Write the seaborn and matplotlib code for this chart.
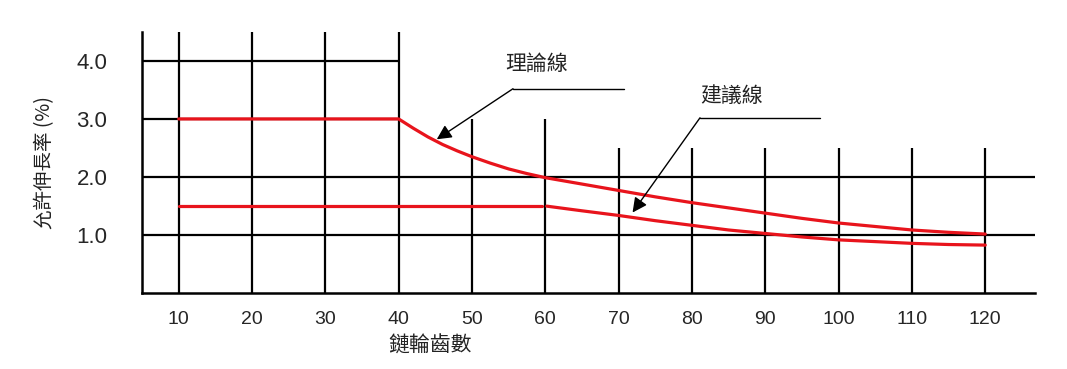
import numpy as np
import pandas as pd
import seaborn as sns
import matplotlib.pyplot as plt

#%% data
theory_x = [10, 20, 30, 40, 42, 44, 46, 48, 50, 52.5, 55, 57.5, 60, 65, 70, 75, 80, 85, 90, 95, 100, 105, 110, 115, 120]
theory_y = [3.0, 3.0, 3.0, 3.0, 2.84, 2.69, 2.56, 2.45, 2.35, 2.24, 2.14, 2.06, 1.99, 1.88, 1.77, 1.66, 1.56, 1.47, 1.38, 1.29, 1.21, 1.15, 1.09, 1.05, 1.02]

rec_flat_x = [10, 59.6]
rec_flat_y = [1.5, 1.5]
rec_x = [60.2, 65, 70, 75, 80, 85, 90, 95, 100, 105, 110, 115, 120]
rec_y = [1.50, 1.42, 1.34, 1.25, 1.17, 1.09, 1.03, 0.97, 0.92, 0.89, 0.86, 0.84, 0.83]

x_ticks = [10, 20, 30, 40, 50, 60, 70, 80, 90, 100, 110, 120]
y_ticks = [1.0, 2.0, 3.0, 4.0]

#%% style
sns.set_style('white')
plt.rcParams['font.family'] = ['Liberation Sans', 'Noto Sans CJK TC', 'DejaVu Sans']
cjk = ['Noto Sans CJK TC', 'DejaVu Sans']
red = '#e8141c'
txt = '#222222'

fig = plt.figure(figsize=(10.67, 3.69), dpi=100)
ax = fig.add_axes([0.1331, 0.205, 0.8370, 0.709])
xmax = 126.8
ax.set_xlim(5, xmax)
ax.set_ylim(0, 4.5)

# grid (partial lines like the original)
glw = 1.6
ax.vlines([10, 20, 30, 40], 0, 4.5, color='black', lw=glw)
ax.vlines([50, 60], 0, 3.0, color='black', lw=glw)
ax.vlines([70, 80, 90, 100, 110, 120], 0, 2.5, color='black', lw=glw)
ax.hlines([4.0, 3.0], 5, 40, color='black', lw=glw)
ax.hlines([2.0, 1.0], 5, xmax, color='black', lw=glw)

# curves
sns.lineplot(x=theory_x, y=theory_y, ax=ax, color=red, lw=2.3, sort=False)
sns.lineplot(x=rec_flat_x, y=rec_flat_y, ax=ax, color=red, lw=2.3, sort=False)
sns.lineplot(x=rec_x, y=rec_y, ax=ax, color=red, lw=2.3, sort=False)

# axes
for s in ['top', 'right']:
    ax.spines[s].set_visible(False)
for s in ['left', 'bottom']:
    ax.spines[s].set_linewidth(1.8)
    ax.spines[s].set_color('black')
ax.set_xticks(x_ticks)
ax.set_xticklabels([str(v) for v in x_ticks], fontsize=14)
ax.set_yticks(y_ticks)
ax.set_yticklabels(['%.1f' % v for v in y_ticks], fontsize=16)
ax.tick_params(axis='x', length=0, pad=13)
ax.tick_params(axis='y', length=0, pad=25)

ax.text(0.322, -0.20, '鏈輪齒數', transform=ax.transAxes, ha='center', va='center',
        fontsize=15, family=cjk, color=txt)
ax.text(-0.109, 0.50, '允許伸長率 (%)', transform=ax.transAxes, ha='center', va='center',
        rotation=90, fontsize=14, family=cjk, color=txt)

# callouts
ax.plot([70.8, 55.6], [3.52, 3.52], color='black', lw=1, clip_on=False)
ax.annotate('', xy=(45.2, 2.65), xytext=(55.6, 3.52),
            arrowprops=dict(arrowstyle='-|>', color='black', lw=1, mutation_scale=22,
                            shrinkA=0, shrinkB=0))
ax.text(58.8, 3.95, '理論線', ha='center', va='center', fontsize=15, family=cjk, color=txt)

ax.plot([97.4, 81.1], [3.02, 3.02], color='black', lw=1, clip_on=False)
ax.annotate('', xy=(71.9, 1.39), xytext=(81.1, 3.02),
            arrowprops=dict(arrowstyle='-|>', color='black', lw=1, mutation_scale=22,
                            shrinkA=0, shrinkB=0))
ax.text(85.4, 3.40, '建議線', ha='center', va='center', fontsize=15, family=cjk, color=txt)

fig.savefig('out.png', dpi=100)
